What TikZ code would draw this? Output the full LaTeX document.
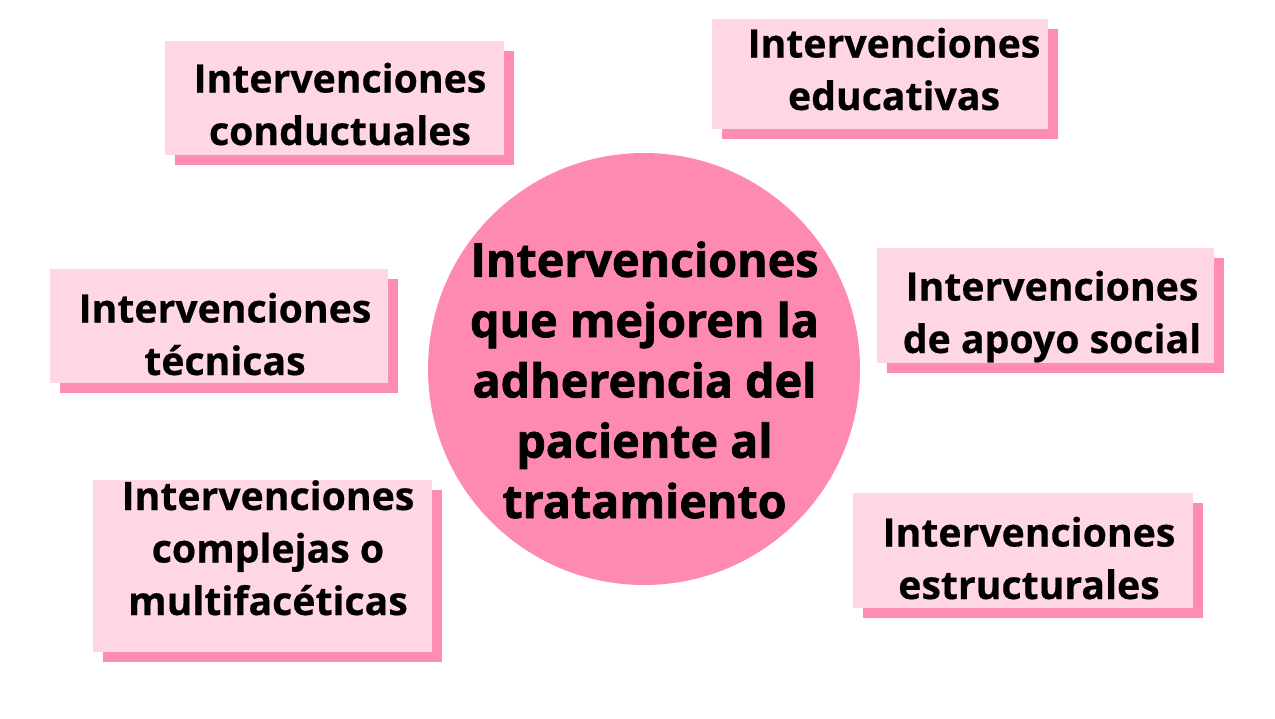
\documentclass[tikz,border=0pt]{standalone}
\usepackage{fontspec}
\setmainfont{Open Sans}
\newfontfamily\hubfont{Open Sans}[BoldFeatures={FakeBold=1.6}]
\newfontfamily\cardfont{Open Sans}[BoldFeatures={FakeBold=0.5}]
\usetikzlibrary{shadows}
\definecolor{boxpink}{HTML}{FFD6E5}
\definecolor{shadowpink}{HTML}{FF8CB2}
\definecolor{circpink}{HTML}{FF8AB0}
\begin{document}
\begin{tikzpicture}[x=1pt,y=-1pt,
  card/.style={rectangle, fill=boxpink, inner sep=0pt,
    drop shadow={shadow xshift=10pt, shadow yshift=-10pt, fill=shadowpink, opacity=1}},
  cardtext/.style={anchor=base, align=center, inner sep=0pt,
    font=\cardfont\fontsize{39.2}{52.5}\selectfont\bfseries},
  hubtext/.style={anchor=base, align=center, inner sep=0pt,
    font=\hubfont\fontsize{46.6}{60.3}\selectfont\bfseries}]
\useasboundingbox (0,0) rectangle (1275,718);
\fill[white] (0,0) rectangle (1275,718);
% center circle
\node[circle, fill=circpink, minimum size=432pt, inner sep=0pt] (hub) at (644,369) {};
\node[hubtext] (hubt) at (644.5,518) {Intervenciones\\que mejoren la\\adherencia del\\paciente al\\tratamiento};
% cards
\node[card, minimum width=339pt, minimum height=114pt] (c1) at (334.5,98) {};
\node[cardtext] (t1) at (340,145) {Intervenciones\\conductuales};
\node[card, minimum width=336pt, minimum height=110pt] (c2) at (880,74) {};
\node[cardtext] (t2) at (894,110) {Intervenciones\\educativas};
\node[card, minimum width=338pt, minimum height=114pt] (c3) at (219,326) {};
\node[cardtext] (t3) at (225,375) {Intervenciones\\técnicas};
\node[card, minimum width=337pt, minimum height=115pt] (c4) at (1045.5,305.5) {};
\node[cardtext] (t4) at (1052,353) {Intervenciones\\de apoyo social};
\node[card, minimum width=339pt, minimum height=172pt] (c5) at (262.5,566) {};
\node[cardtext] (t5) at (268,615) {Intervenciones\\complejas o\\multifacéticas};
\node[card, minimum width=340pt, minimum height=115pt] (c6) at (1023,550.5) {};
\node[cardtext] (t6) at (1029,599) {Intervenciones\\estructurales};
\end{tikzpicture}
\end{document}
